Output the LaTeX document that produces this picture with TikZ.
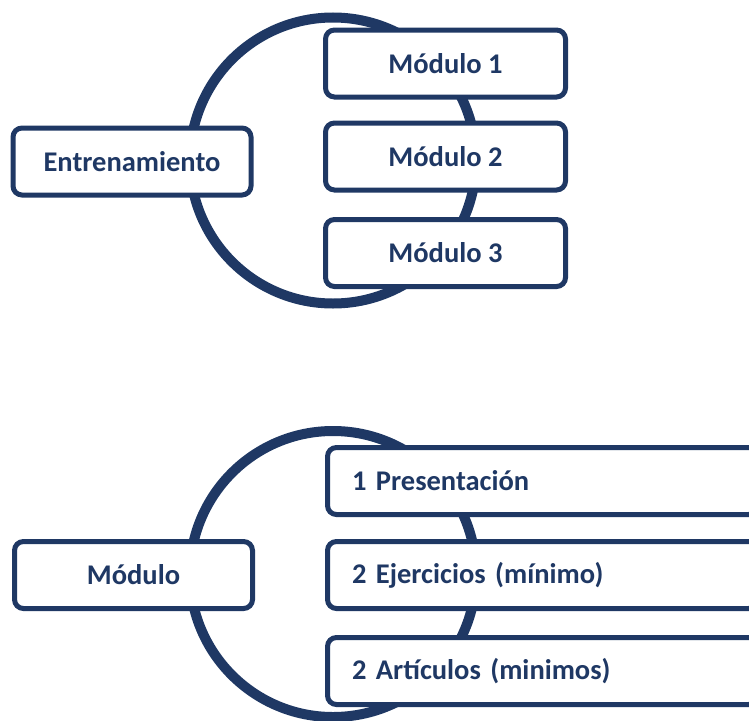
\documentclass[tikz,border=0pt]{standalone}
\usepackage{fontspec}
\setmainfont{Carlito}
\definecolor{navy}{HTML}{1F3864}
\begin{document}
\begin{tikzpicture}[x=1pt,y=-1pt,
  ring/.style={circle,draw=navy,line width=10pt,minimum size=286pt,inner sep=0pt},
  box/.style={draw=navy,fill=white,line width=5pt,rounded corners=9pt,
    text=navy,font=\bfseries\fontsize{28.5}{34}\selectfont,inner sep=0pt,
    minimum height=67pt},
  leftbox/.style={box,minimum width=238pt},
  modbox/.style={box,minimum width=240pt},
  itembox/.style={box,minimum width=430pt,text width=381pt,align=left,inner xsep=24.5pt}]
\useasboundingbox (0,0) rectangle (749,720);
\clip (0,0) rectangle (749,720);
% top section
\node[ring] (c1) at (333,160.5) {};
\node[leftbox] (ent) at (132,161.5) {Entrenamiento};
\node[modbox] (m1) at (445.5,63.5) {Módulo 1};
\node[modbox] (m2) at (445.5,156.5) {Módulo 2};
\node[modbox] (m3) at (445.5,253) {Módulo 3};
% bottom section
\node[ring] (c2) at (333,574) {};
\node[leftbox] (mod) at (133.5,575) {Módulo};
\node[itembox] (p1) at (542.5,481) {1 Presentación};
\node[itembox] (p2) at (542.5,575) {2 Ejercicios (mínimo)};
\node[itembox] (p3) at (542.5,671) {2 Artículos (minimos)};
\end{tikzpicture}
\end{document}
